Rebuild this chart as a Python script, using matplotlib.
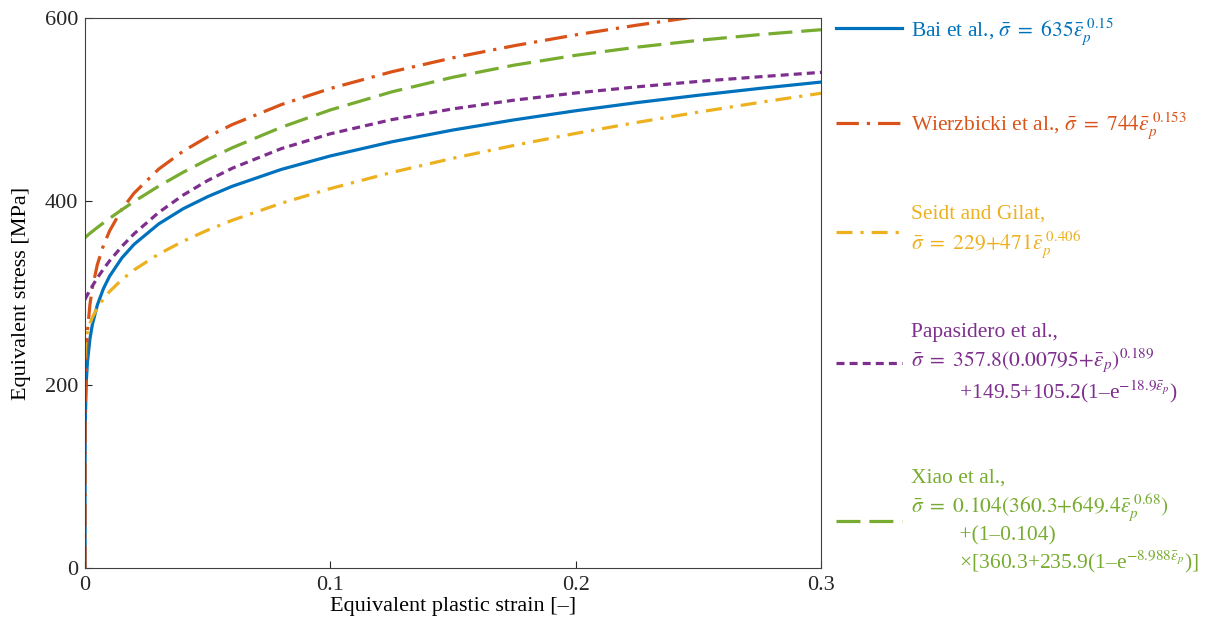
import matplotlib.pyplot as plt
import numpy as np

plt.rcParams['font.family'] = ['Liberation Serif', 'DejaVu Serif']
plt.rcParams['mathtext.fontset'] = 'stix'

# equivalent plastic strain [-] (sample points)
strain = [0, 1e-7, 1e-6, 1e-5, 0.0001, 0.0005, 0.001, 0.002, 0.003, 0.005, 0.0075,
          0.01, 0.015, 0.02, 0.03, 0.04, 0.05, 0.06, 0.08, 0.1, 0.125, 0.15,
          0.175, 0.2, 0.225, 0.25, 0.275, 0.3]

# equivalent stress [MPa]
bai = [0, 56.6, 79.9, 112.9, 159.5, 203.1, 225.3, 250.0, 265.7, 286.8, 304.8,
       318.3, 338.2, 353.1, 375.3, 391.9, 405.1, 416.4, 434.8, 449.5, 464.9, 477.8,
       488.9, 498.8, 507.7, 515.7, 523.2, 530.1]
wierzbicki = [0, 63.2, 89.9, 127.8, 181.8, 232.6, 258.5, 287.5, 305.9, 330.8, 351.9,
              367.7, 391.3, 409.0, 435.1, 454.7, 470.4, 483.7, 505.5, 523.1, 541.3, 556.6,
              569.8, 581.6, 592.2, 601.8, 610.7, 618.9]
seidt = [229.0, 229.1, 229.8, 233.4, 240.2, 250.5, 257.5, 266.8, 273.5, 283.8, 293.6,
         301.6, 314.6, 325.2, 342.4, 356.5, 368.6, 379.3, 397.9, 413.9, 431.5, 447.0,
         461.1, 474.1, 486.1, 497.3, 507.9, 517.9]
papasidero = [293.0, 293.0, 293.0, 293.1, 293.5, 295.7, 298.2, 303.1, 307.7, 316.4, 326.1,
              335.0, 350.8, 364.6, 387.8, 406.8, 422.7, 436.1, 457.5, 473.7, 489.1, 500.9,
              510.4, 518.2, 524.9, 530.8, 535.9, 540.7]
xiao = [360.3, 360.3, 360.3, 360.3, 360.6, 361.6, 362.8, 365.1, 367.2, 371.4, 376.5,
        381.4, 390.8, 399.8, 416.5, 431.7, 445.6, 458.4, 480.8, 499.7, 519.4, 535.4,
        548.6, 559.3, 568.2, 575.6, 581.9, 587.2]

labels = [
    r'Bai et al., $\bar{\sigma}\ =\ 635\bar{\varepsilon}_p^{\ 0.15}$',
    r'Wierzbicki et al., $\bar{\sigma}\ =\ 744\bar{\varepsilon}_p^{\ 0.153}$',
    'Seidt and Gilat,\n' + r'$\bar{\sigma}\ =\ 229{+}471\bar{\varepsilon}_p^{\ 0.406}$',
    'Papasidero et al.,\n' + r'$\bar{\sigma}\ =\ 357.8(0.00795{+}\bar{\varepsilon}_p)^{0.189}$'
    + '\n         +149.5+105.2(1–e$^{-18.9\\bar{\\varepsilon}_p}$)',
    'Xiao et al.,\n' + r'$\bar{\sigma}\ =\ 0.104(360.3{+}649.4\bar{\varepsilon}_p^{\ 0.68})$'
    + '\n         +(1–0.104)'
    + '\n         ×[360.3+235.9(1–e$^{-8.988\\bar{\\varepsilon}_p}$)]',
]
colors = ['#0072BD', '#D95319', '#EDB120', '#7E2F8E', '#77AC30']
styles = ['-', (0, (7, 2.5, 1, 2.5)), (0, (5, 2.5, 1, 2.5)), (0, (2.5, 1.6)), (0, (7.5, 2.8))]
series = [bai, wierzbicki, seidt, papasidero, xiao]

fig = plt.figure(figsize=(12.2, 6.29), dpi=100)
ax = fig.add_axes([0.0697, 0.097, 0.6033, 0.8744])

for y, c, ls, lab in zip(series, colors, styles, labels):
    ax.plot(strain, y, color=c, linestyle=ls, linewidth=2.3, label=lab)

ax.set_xlim(0, 0.3)
ax.set_ylim(0, 600)
ax.set_xticks([0, 0.1, 0.2, 0.3])
ax.set_xticklabels(['0', '0.1', '0.2', '0.3'])
ax.set_yticks([0, 200, 400, 600])
ax.tick_params(direction='in', length=5, labelsize=16, colors='#262626')
ax.tick_params(axis='x', pad=6)
ax.tick_params(axis='y', pad=5)
for s in ax.spines.values():
    s.set_color('#404040')
ax.set_xlabel('Equivalent plastic strain [–]', fontsize=16, labelpad=1)
ax.set_ylabel('Equivalent stress [MPa]', fontsize=16)
ax.yaxis.set_label_coords(-0.074, 0.5)

leg = fig.legend(loc='upper left', bbox_to_anchor=(0.685, 0.975), frameon=False,
                 fontsize=15.5, handlelength=3.1, handletextpad=0.4,
                 labelspacing=2.95, borderpad=0, borderaxespad=0)
for t, c in zip(leg.get_texts(), colors):
    t.set_color(c)

fig.savefig('out.png', dpi=100)
